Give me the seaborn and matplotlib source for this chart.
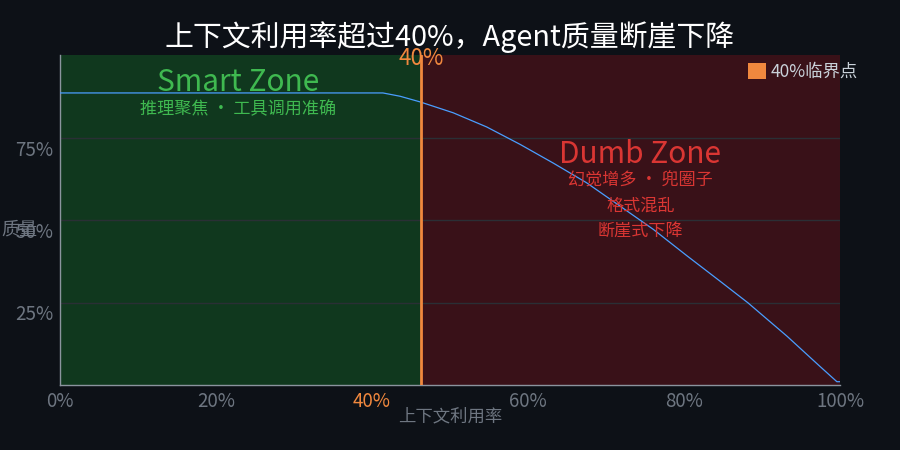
import numpy as np
import pandas as pd
import matplotlib
matplotlib.use("Agg")
import matplotlib.pyplot as plt
import matplotlib.transforms as mtransforms
from matplotlib.patches import Patch
import seaborn as sns

# ---- data ----
utilization = [0.0, 0.10, 0.20, 0.30, 0.414, 0.436, 0.4615, 0.504, 0.547, 0.590, 0.632, 0.675,
               0.709, 0.761, 0.803, 0.846, 0.882, 0.932, 0.974, 0.996, 1.0]
quality = [0.885, 0.885, 0.885, 0.885, 0.885, 0.875, 0.858, 0.825, 0.782, 0.729, 0.673, 0.613,
           0.557, 0.471, 0.393, 0.315, 0.249, 0.148, 0.057, 0.010, 0.010]
critical_x = 0.463
x_ticks = [0.0, 0.2, 0.4, 0.6, 0.8, 1.0]
x_tick_labels = ["0%", "20%", "40%", "60%", "80%", "100%"]
y_ticks = [0.25, 0.5, 0.75]
y_tick_labels = ["25%", "50%", "75%"]
title = "上下文利用率超过40%，Agent质量断崖下降"
smart_title = "Smart Zone"
smart_sub = "推理聚焦 · 工具调用准确"
dumb_title = "Dumb Zone"
dumb_lines = ["幻觉增多 · 兜圈子", "格式混乱", "断崖式下降"]
legend_label = "40%临界点"

df = pd.DataFrame({"utilization": utilization, "quality": quality})

BG = "#0d1117"
GREEN_BG = "#10381e"
RED_BG = "#391118"
ORANGE = "#f0883e"
BLUE = "#4a9eff"
SPINE = "#8b949e"
GRAY = "#6e7681"
GREEN = "#3fb950"
RED = "#da3633"

sns.set_theme(style="dark")
plt.rcParams["font.family"] = ["Noto Sans CJK SC", "DejaVu Sans"]
plt.rcParams["axes.unicode_minus"] = False

fig = plt.figure(figsize=(9, 4.5), dpi=100, facecolor=BG)
ax = fig.add_axes([60 / 900, 1 - 385 / 450, 780 / 900, 330 / 450])
ax.set_facecolor(BG)

ax.axvspan(0, critical_x, color=GREEN_BG, zorder=0, lw=0)
ax.axvspan(critical_x, 1, color=RED_BG, zorder=0, lw=0)
for yt in y_ticks:
    ax.axhline(yt, color="#2a2f35", lw=1, zorder=1)

sns.lineplot(data=df, x="utilization", y="quality", ax=ax, color=BLUE, lw=0.9, zorder=3)
ax.axvline(critical_x, color=ORANGE, lw=2, zorder=4)

ax.set_xlim(0, 1)
ax.set_ylim(0, 1)
ax.set_xticks(x_ticks)
ax.set_xticklabels(x_tick_labels)
ax.set_yticks(y_ticks)
ax.set_yticklabels(y_tick_labels)
ax.tick_params(axis="both", length=0, colors=GRAY, labelsize=13.5)
ax.tick_params(axis="x", pad=4)
ax.tick_params(axis="y", pad=5)
ax.get_xticklabels()[2].set_color(ORANGE)
offset = mtransforms.ScaledTranslation(0, -10 / 100, fig.dpi_scale_trans)
for lab in ax.get_yticklabels():
    lab.set_transform(lab.get_transform() + offset)
ax.grid(False)
ax.set_xlabel("")
ax.set_ylabel("")
for s in ["top", "right"]:
    ax.spines[s].set_visible(False)
for s in ["left", "bottom"]:
    ax.spines[s].set_visible(True)
    ax.spines[s].set_color(SPINE)
    ax.spines[s].set_linewidth(1)

# zone texts
ax.text(0.228, 0.918, smart_title, color=GREEN, fontsize=21.5, ha="center", va="center", zorder=5)
ax.text(0.228, 0.835, smart_sub, color=GREEN, fontsize=12.3, ha="center", va="center", zorder=5)
ax.text(0.744, 0.698, dumb_title, color=RED, fontsize=21.5, ha="center", va="center", zorder=5)
for yy, line in zip([0.620, 0.544, 0.466], dumb_lines):
    ax.text(0.744, yy, line, color=RED, fontsize=12.3, ha="center", va="center", zorder=5)

ax.text(critical_x, 0.99, "40%", color=ORANGE, fontsize=16, ha="center", va="center", zorder=6, clip_on=False)

fig.text(0.5, 1 - 37 / 450, title, color="white", fontsize=20.8, ha="center", va="center")
fig.text(0.5, 1 - 416 / 450, "上下文利用率", color=GRAY, fontsize=12.5, ha="center", va="center")
fig.text(19 / 900, 1 - 230 / 450, "质量", color=GRAY, fontsize=13, ha="center", va="center")

leg = fig.legend(handles=[Patch(facecolor=ORANGE, edgecolor="none", label=legend_label)],
                 loc="upper right", bbox_to_anchor=(858 / 900, 1 - 63 / 450),
                 frameon=False, fontsize=12.5, handlelength=1.0, handleheight=1.0,
                 handletextpad=0.3, borderaxespad=0, borderpad=0)
for t in leg.get_texts():
    t.set_color("#c9d1d9")

fig.savefig("out.png", dpi=100, facecolor=BG)
